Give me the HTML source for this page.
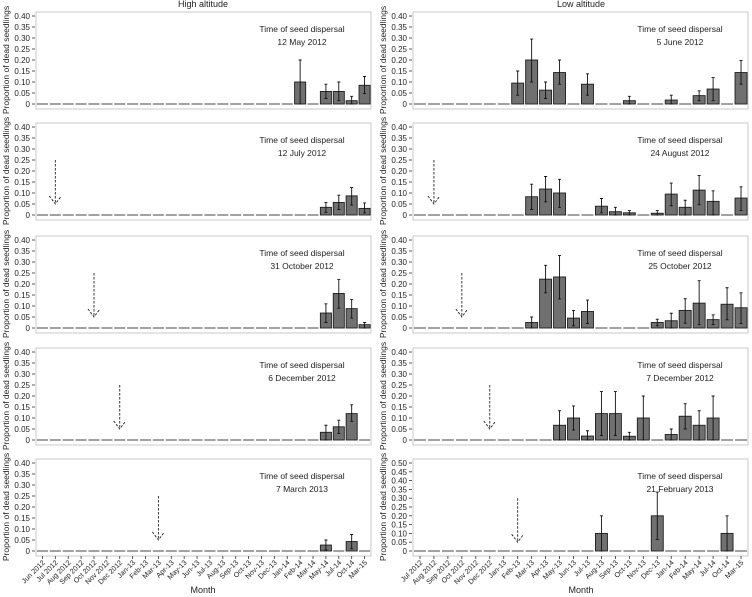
<!DOCTYPE html>
<html><head><meta charset="utf-8"><style>
html,body{margin:0;padding:0;background:#fff;}
svg{display:block;font-family:"Liberation Sans",Arial,sans-serif;}
</style></head><body>
<svg id="chart" width="752" height="597" viewBox="0 0 752 597" xmlns="http://www.w3.org/2000/svg">
<text x="203" y="7" font-size="9" text-anchor="middle" fill="#222">High altitude</text>
<text x="581" y="7" font-size="9" text-anchor="middle" fill="#222">Low altitude</text>
<text x="203" y="593" font-size="9" text-anchor="middle" fill="#222">Month</text>
<text x="581" y="593" font-size="9" text-anchor="middle" fill="#222">Month</text>
</svg>
<script>
const catsLeft = ["Jun 2012","Jul 2012","Aug 2012","Sep 2012","Oct 2012","Nov 2012","Dec 2012","Jan-13","Feb-13","Mar-13","Apr-13","May-13","Jun-13","Jul-13","Aug-13","Sep-13","Oct-13","Nov-13","Dec-13","Jan-14","Feb-14","Mar-14","May-14","Jul-14","Oct-14","Mar-15"];
const catsRight = ["Jul 2012","Aug 2012","Sep 2012","Oct 2012","Nov 2012","Dec 2012","Jan-13","Feb-13","Mar-13","Apr-13","May-13","Jun-13","Jul-13","Aug-13","Sep-13","Oct-13","Nov-13","Dec-13","Jan-14","Feb-14","May-14","Jul-14","Oct-14","Mar-15"];
const dispersalDates = ["12 May 2012","12 July 2012","31 October 2012","6 December 2012","7 March 2013","5 June 2012","24 August 2012","25 October 2012","7 December 2012","21 February 2013"];
const arrowIndex = [-1,1,4,6,9,-1,1,3,5,7];
const arrowTop = [0.25,0.25,0.25,0.25,0.25,0.25,0.25,0.25,0.25,0.30];
const yMaxes = [0.40,0.40,0.40,0.40,0.40,0.40,0.40,0.40,0.40,0.50];
const valsL1 = [0,0,0,0,0,0,0,0,0,0,0,0,0,0,0,0,0,0,0,0,0.10,0,0.057,0.057,0.015,0.085];
const hiL1   = [0,0,0,0,0,0,0,0,0,0,0,0,0,0,0,0,0,0,0,0,0.20,0,0.09,0.10,0.035,0.125];
const loL1   = [0,0,0,0,0,0,0,0,0,0,0,0,0,0,0,0,0,0,0,0,0.0,0,0.025,0.015,0.0,0.048];
const valsL2 = [0,0,0,0,0,0,0,0,0,0,0,0,0,0,0,0,0,0,0,0,0,0,0.035,0.057,0.087,0.03];
const hiL2   = [0,0,0,0,0,0,0,0,0,0,0,0,0,0,0,0,0,0,0,0,0,0,0.057,0.09,0.125,0.055];
const loL2   = [0,0,0,0,0,0,0,0,0,0,0,0,0,0,0,0,0,0,0,0,0,0,0.012,0.025,0.045,0.01];
const valsL3 = [0,0,0,0,0,0,0,0,0,0,0,0,0,0,0,0,0,0,0,0,0,0,0.068,0.157,0.088,0.015];
const hiL3   = [0,0,0,0,0,0,0,0,0,0,0,0,0,0,0,0,0,0,0,0,0,0,0.11,0.22,0.13,0.025];
const loL3   = [0,0,0,0,0,0,0,0,0,0,0,0,0,0,0,0,0,0,0,0,0,0,0.025,0.09,0.045,0.0];
const valsL4 = [0,0,0,0,0,0,0,0,0,0,0,0,0,0,0,0,0,0,0,0,0,0,0.035,0.06,0.12,0];
const hiL4   = [0,0,0,0,0,0,0,0,0,0,0,0,0,0,0,0,0,0,0,0,0,0,0.067,0.09,0.16,0];
const loL4   = [0,0,0,0,0,0,0,0,0,0,0,0,0,0,0,0,0,0,0,0,0,0,0.0,0.03,0.085,0];
const valsL5 = [0,0,0,0,0,0,0,0,0,0,0,0,0,0,0,0,0,0,0,0,0,0,0.027,0,0.043,0];
const hiL5   = [0,0,0,0,0,0,0,0,0,0,0,0,0,0,0,0,0,0,0,0,0,0,0.05,0,0.075,0];
const loL5   = [0,0,0,0,0,0,0,0,0,0,0,0,0,0,0,0,0,0,0,0,0,0,0.005,0,0.01,0];
const valsR1 = [0,0,0,0,0,0,0,0.095,0.20,0.063,0.143,0,0.09,0,0,0.015,0,0,0.018,0,0.038,0.068,0,0.143];
const hiR1   = [0,0,0,0,0,0,0,0.15,0.295,0.10,0.20,0,0.137,0,0,0.035,0,0,0.04,0,0.06,0.12,0,0.198];
const loR1   = [0,0,0,0,0,0,0,0.04,0.10,0.025,0.09,0,0.04,0,0,0.0,0,0,0.0,0,0.015,0.015,0,0.09];
const valsR2 = [0,0,0,0,0,0,0,0,0.083,0.118,0.10,0,0,0.04,0.015,0.01,0,0.008,0.095,0.035,0.113,0.062,0,0.077];
const hiR2   = [0,0,0,0,0,0,0,0,0.14,0.175,0.162,0,0,0.075,0.035,0.02,0,0.02,0.145,0.067,0.18,0.11,0,0.128];
const loR2   = [0,0,0,0,0,0,0,0,0.025,0.06,0.035,0,0,0.01,0.0,0.0,0,0.0,0.042,0.0,0.047,0.0,0,0.02];
const valsR3 = [0,0,0,0,0,0,0,0,0.025,0.222,0.232,0.045,0.075,0,0,0,0,0.025,0.033,0.08,0.113,0.038,0.108,0.092];
const hiR3   = [0,0,0,0,0,0,0,0,0.05,0.285,0.33,0.08,0.127,0,0,0,0,0.04,0.067,0.133,0.215,0.06,0.183,0.16];
const loR3   = [0,0,0,0,0,0,0,0,0.0,0.16,0.132,0.01,0.02,0,0,0,0,0.01,0.0,0.022,0.015,0.015,0.037,0.02];
const valsR4 = [0,0,0,0,0,0,0,0,0,0,0.067,0.10,0.018,0.12,0.12,0.017,0.10,0,0.025,0.108,0.067,0.10,0,0];
const hiR4   = [0,0,0,0,0,0,0,0,0,0,0.133,0.155,0.042,0.22,0.22,0.035,0.20,0,0.05,0.165,0.133,0.20,0,0];
const loR4   = [0,0,0,0,0,0,0,0,0,0,0.0,0.045,0.0,0.02,0.02,0.0,0.0,0,0.0,0.05,0.0,0.0,0,0];
const valsR5 = [0,0,0,0,0,0,0,0,0,0,0,0,0,0.10,0,0,0,0.20,0,0,0,0,0.10,0];
const hiR5   = [0,0,0,0,0,0,0,0,0,0,0,0,0,0.20,0,0,0,0.335,0,0,0,0,0.20,0];
const loR5   = [0,0,0,0,0,0,0,0,0,0,0,0,0,0.0,0,0,0,0.065,0,0,0,0,0.0,0];

const panelVals = [valsL1,valsL2,valsL3,valsL4,valsL5,valsR1,valsR2,valsR3,valsR4,valsR5];
const panelHi = [hiL1,hiL2,hiL3,hiL4,hiL5,hiR1,hiR2,hiR3,hiR4,hiR5];
const panelLo = [loL1,loL2,loL3,loL4,loL5,loR1,loR2,loR3,loR4,loR5];

const svg = document.getElementById('chart');
const NS = 'http://www.w3.org/2000/svg';
function mk(tag, attrs, parent){
  const e = document.createElementNS(NS, tag);
  for (const k in attrs) e.setAttribute(k, attrs[k]);
  (parent||svg).appendChild(e);
  return e;
}
const rowTops = [12,123,236,348,459];
for (let p = 0; p < 10; p++) {
  const col = p < 5 ? 0 : 1;
  const row = p % 5;
  const cats = col === 0 ? catsLeft : catsRight;
  const x0 = col === 0 ? 36 : 413, x1 = col === 0 ? 371 : 748;
  const T = rowTops[row];
  const yZero = T + 92, yTop = T + 4;
  const yMax = yMaxes[p];
  const band = (x1 - x0) / cats.length;
  const xC = i => x0 + (i + 0.5) * band;
  const yS = v => yZero - (v / yMax) * (yZero - yTop);
  const g = mk('g', {});
  
  
  const fr = mk('rect', {x: x0, y: T, width: x1 - x0, height: 97, fill: 'none', stroke: '#c8c8c8', 'stroke-width': 1}, g);
  
  
  const ylab = mk('text', {x: 0, y: 0, 'font-size': 8.5, 'text-anchor': 'middle', fill: '#222',
    transform: 'translate(' + (x0 - 27) + ',' + (T + 48) + ') rotate(-90)'}, g);
  ylab.textContent = 'Proportion of dead seedlings';
  
  
  const nT = Math.round(yMax / 0.05);
  for (let t = 0; t <= nT; t++) {
    const v = t * 0.05, y = yS(v);
    mk('line', {x1: x0 - 4, x2: x0 - 1, y1: y, y2: y, stroke: '#333', 'stroke-width': 0.8}, g);
    const tl = mk('text', {x: x0 - 6, y: y + 3, 'font-size': 8, 'text-anchor': 'end', fill: '#222'}, g);
    tl.textContent = t === 0 ? '0' : v.toFixed(2);
    
    
  }
  const cx = col === 0 ? 302 : 680;
  const a1 = mk('text', {x: cx, y: T + 20, 'font-size': 8.5, 'text-anchor': 'middle', fill: '#222'}, g);
  a1.textContent = 'Time of seed dispersal';
  
  
  const a2 = mk('text', {x: cx, y: T + 33, 'font-size': 8.5, 'text-anchor': 'middle', fill: '#222'}, g);
  a2.textContent = dispersalDates[p];
  
  
  const vals = panelVals[p], hi = panelHi[p], lo = panelLo[p];
  for (let i = 0; i < cats.length; i++) {
    const bw = band * 0.86;
    const bx = xC(i) - bw / 2;
    if (vals[i] > 0) {
      const r = mk('rect', {x: bx, y: yS(vals[i]), width: bw, height: yZero - yS(vals[i]), fill: '#707070', stroke: '#1e1e1e', 'stroke-width': 0.9}, g);
      
      
      const e = mk('path', {d: 'M' + xC(i) + ' ' + yS(hi[i]) + 'V' + yS(lo[i]) +
        'M' + (xC(i) - 1.5) + ' ' + yS(hi[i]) + 'h3M' + (xC(i) - 1.5) + ' ' + yS(lo[i]) + 'h3',
        stroke: '#111', 'stroke-width': 0.9, fill: 'none'}, g);
      
      
    } else {
      const l = mk('line', {x1: bx, x2: bx + bw, y1: yZero, y2: yZero, stroke: '#7a7a7a', 'stroke-width': 1.4}, g);
      
      
    }
  }
  if (arrowIndex[p] >= 0) {
    const ax = xC(arrowIndex[p]);
    const yT = yS(arrowTop[p]), yB = yS(0.05);
    const ar = mk('path', {d: 'M' + ax + ' ' + yT + 'V' + yB + 'M' + (ax - 6) + ' ' + (yB - 8) + 'L' + ax + ' ' + yB + 'L' + (ax + 6) + ' ' + (yB - 8),
      stroke: '#222', 'stroke-width': 0.9, 'stroke-dasharray': '2.5,1.5', fill: 'none'}, g);
    
    
  }
  if (row === 4) {
    for (let i = 0; i < cats.length; i++) {
      const x = xC(i);
      mk('line', {x1: x, x2: x, y1: T + 97, y2: T + 100, stroke: '#333', 'stroke-width': 0.8}, g);
      const xl = mk('text', {x: 0, y: 0, 'font-size': 7.2, 'text-anchor': 'end', fill: '#222',
        transform: 'translate(' + (x + 3) + ',' + (T + 104) + ') rotate(-45)'}, g);
      xl.textContent = cats[i];
      
      
    }
  }
}
</script>
</body></html>
